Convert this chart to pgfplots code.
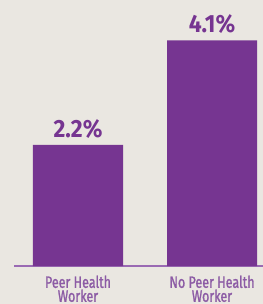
\documentclass[border=0pt]{standalone}
\usepackage{pgfplots}
\pgfplotsset{compat=1.18}
\usepackage{fontspec}
\setmainfont{Fira Sans}
\newfontfamily\labfont{Fira Sans}[FakeStretch=0.76,FakeBold=1.2]
\newfontfamily\valfont{Fira Sans}[FakeStretch=0.92]
\definecolor{bg}{HTML}{EAE7E1}
\definecolor{barc}{HTML}{763591}
\definecolor{lab}{HTML}{8C5BA5}
\definecolor{axc}{HTML}{9A6AB3}
\begin{document}
\begin{tikzpicture}[x=1bp,y=1bp]
\useasboundingbox (0,0) rectangle (263,304);
\clip (0,0) rectangle (263,304);
\fill[bg] (0,0) rectangle (263,304);
\begin{axis}[
  at={(14bp,38bp)}, anchor=south west,
  width=249bp, height=266bp, scale only axis,
  xmin=-0.4776, xmax=1.3806, ymin=0, ymax=4.836,
  hide y axis,
  axis x line=bottom,
  x axis line style={-, draw=axc, line width=1.2bp},
  xtick={0,1}, xticklabels={Peer Health\\Worker, No Peer Health\\Worker},
  major tick length=0pt,
  xticklabel style={align=center, text=lab, font=\labfont\fontsize{16.5}{14}\selectfont, anchor=north, yshift=-6bp},
  ybar, bar width=90bp,
  nodes near coords={\pgfmathprintnumber[fixed,precision=1,fixed zerofill]{\pgfplotspointmeta}\%},
  /pgf/number format/assume math mode=true,
  every node near coord/.append style={font=\valfont\bfseries\fontsize{25}{25}\selectfont, text=barc, yshift=3bp},
  clip=false,
]
\addplot[ybar, fill=barc, draw=none] coordinates {(0,2.2) (1,4.1)};
\end{axis}
\end{tikzpicture}
\end{document}
